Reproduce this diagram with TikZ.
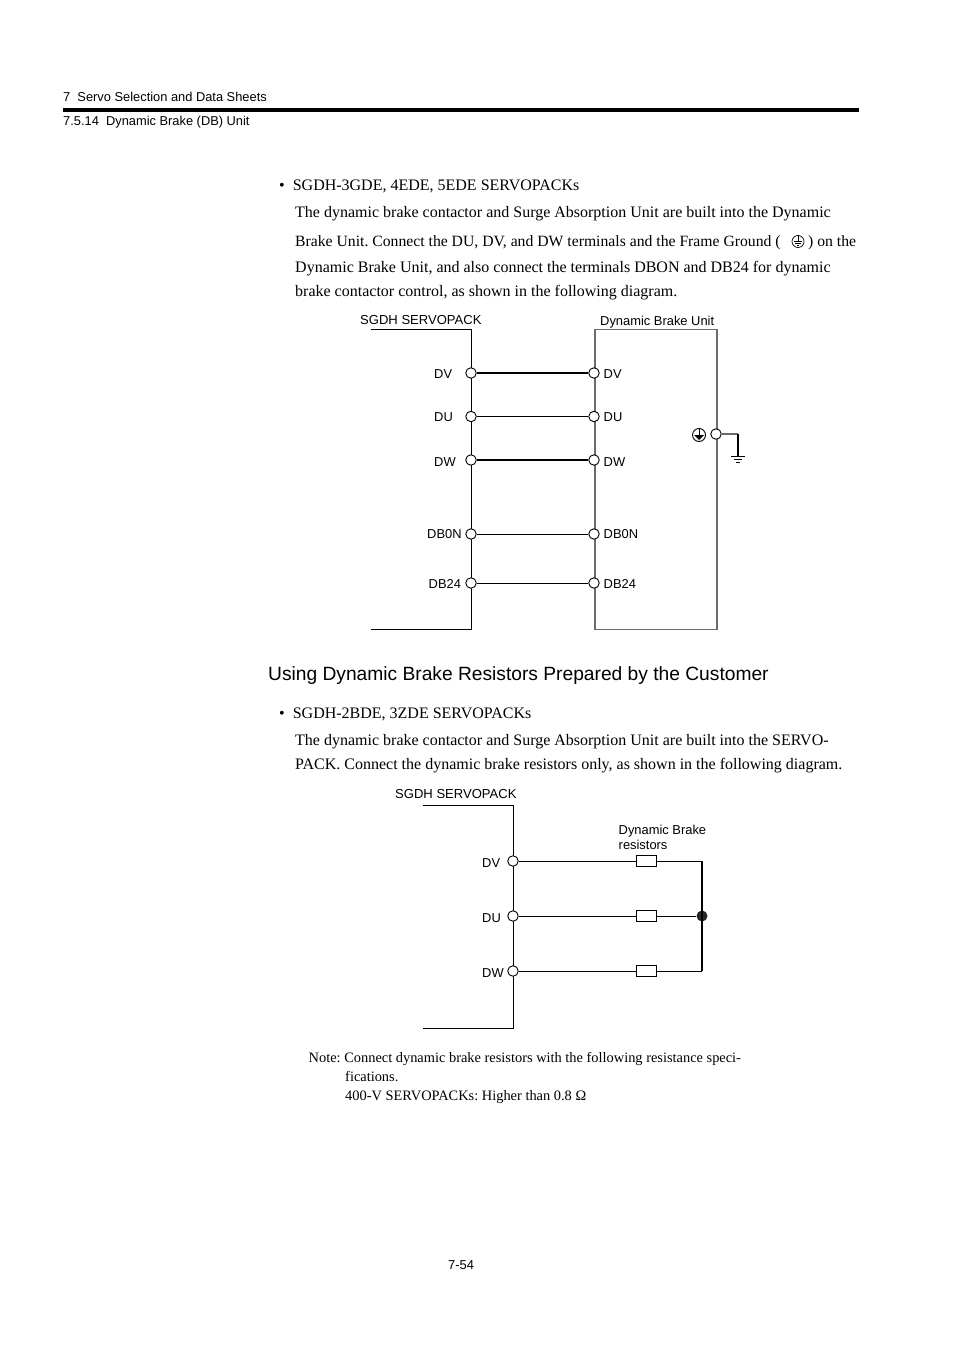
\documentclass[tikz,border=0pt]{standalone}
\usepackage{fontspec}
\setmainfont{Liberation Serif}
\newfontfamily\arialf{Liberation Sans}
\frenchspacing
\begin{document}
\begin{tikzpicture}[x=1pt,y=-1pt,
  bodytxt/.style={anchor=base west,inner sep=0pt,font=\fontsize{16}{18}\selectfont},
  tighttxt/.style={anchor=base west,inner sep=0pt,font=\fontsize{15.7}{18}\selectfont},
  notetxt/.style={anchor=base west,inner sep=0pt,font=\fontsize{14.4}{17}\selectfont},
  headtxt/.style={anchor=base west,inner sep=0pt,font=\arialf\fontsize{12.85}{15}\selectfont},
  sectxt/.style={anchor=base west,inner sep=0pt,font=\arialf\fontsize{19.2}{22}\selectfont},
  lbl/.style={anchor=base west,inner sep=0pt,font=\arialf\fontsize{12.9}{15}\selectfont},
  titlelbl/.style={anchor=base west,inner sep=0pt,font=\arialf\fontsize{13.05}{15}\selectfont},
  term/.style={circle,draw=black,fill=white,line width=0.9pt,minimum size=10.5pt,inner sep=0pt},
  res/.style={rectangle,draw=black,fill=white,line width=0.8pt,minimum width=20pt,minimum height=11pt,inner sep=0pt},
  wire/.style={line width=0.9pt,black},
  thickwire/.style={line width=1.7pt,black},
  graywire/.style={line width=1.5pt,black!58},
  fgsym/.style={circle,draw=black,line width=0.9pt,minimum size=13pt,inner sep=0pt},
  jdot/.style={circle,fill=black!85,minimum size=11pt,inner sep=0pt}]
\useasboundingbox (0,0) rectangle (954,1351);
\fill[white] (0,0) rectangle (954,1351);
% page header
\node[headtxt] (h1) at (63,102) {7\ \ Servo Selection and Data Sheets};
\coordinate (ruleL) at (63,110);
\coordinate (ruleR) at (859,110);
\draw[line width=4pt] (ruleL) -- (ruleR);
\node[headtxt] (h2) at (63,125.5) {7.5.14\ \ Dynamic Brake (DB) Unit};
% body text 1
\node[bodytxt] (b0) at (279,190) {•\ \ SGDH-3GDE, 4EDE, 5EDE SERVOPACKs};
\node[bodytxt] (b1) at (295,217) {The dynamic brake contactor and Surge Absorption Unit are built into the Dynamic};
\node[tighttxt] (b2) at (295,246) {Brake Unit. Connect the DU, DV, and DW terminals and the Frame Ground (};
\node[fgsym,minimum size=12pt,line width=0.7pt] (fgt) at (798,241.5) {};
\draw[line width=0.7pt] (fgt.north) -- (fgt.center);
\draw[line width=0.7pt] ([xshift=-4pt]fgt.center) -- ([xshift=4pt]fgt.center);
\draw[line width=0.7pt] ([xshift=-2.6pt,yshift=-2pt]fgt.center) -- ([xshift=2.6pt,yshift=-2pt]fgt.center);
\draw[line width=0.7pt] ([xshift=-1.3pt,yshift=-4pt]fgt.center) -- ([xshift=1.3pt,yshift=-4pt]fgt.center);
\node[tighttxt] (b2b) at (808,246) {) on the};
\node[bodytxt] (b3) at (295,272) {Dynamic Brake Unit, and also connect the terminals DBON and DB24 for dynamic};
\node[bodytxt] (b4) at (295,296) {brake contactor control, as shown in the following diagram.};
% diagram 1
\node[titlelbl] (t1) at (360,324) {SGDH SERVOPACK};
\node[lbl] (t2) at (600,325) {Dynamic Brake Unit};
\coordinate (a1) at (371,329);
\coordinate (a2) at (471,329);
\coordinate (a3) at (471,629);
\coordinate (a4) at (371,629);
\draw[wire] (a1) -- (a2) -- (a3) -- (a4);
\coordinate (c1) at (595,329.5);
\coordinate (c2) at (717,329.5);
\coordinate (c3) at (717,629.5);
\coordinate (c4) at (595,629.5);
\draw[graywire] (c1) -- (c2) -- (c3) -- (c4) -- cycle;
\foreach \n/\y in {dv/373,du/416.5,dw/460,dbon/534,dbt/583}{
  \node[term] (l\n) at (471,\y) {};
  \node[term] (r\n) at (594,\y) {};
}
\draw[thickwire] (ldv) -- (rdv);
\draw[wire] (ldu) -- (rdu);
\draw[thickwire] (ldw) -- (rdw);
\draw[wire] (ldbon) -- (rdbon);
\draw[wire] (ldbt) -- (rdbt);
\node[lbl] (n1) at (434,378) {DV};
\node[lbl] (n2) at (434,421) {DU};
\node[lbl] (n3) at (434,466) {DW};
\node[lbl] (n4) at (427,538) {DB0N};
\node[lbl] (n5) at (428.5,588) {DB24};
\node[lbl] (m1) at (603.5,378) {DV};
\node[lbl] (m2) at (603.5,421) {DU};
\node[lbl] (m3) at (603.5,466) {DW};
\node[lbl] (m4) at (603.5,538) {DB0N};
\node[lbl] (m5) at (603.5,588) {DB24};
% ground
\node[term] (gt) at (716,434) {};
\coordinate (gc) at (738,434);
\coordinate (gb) at (738,456.5);
\coordinate (g1l) at (731,456.5);
\coordinate (g1r) at (745,456.5);
\coordinate (g2l) at (734,459.5);
\coordinate (g2r) at (742,459.5);
\coordinate (g3l) at (736,462);
\coordinate (g3r) at (740,462);
\draw[graywire,line width=1.2pt] (gt) -- (gc);
\draw[black,line width=1.5pt] (gc) -- (gb);
\draw[line width=0.8pt] (g1l) -- (g1r);
\draw[line width=0.8pt] (g2l) -- (g2r);
\draw[line width=0.8pt] (g3l) -- (g3r);
\node[fgsym] (fg) at (699,435) {};
\draw[line width=0.9pt] (fg.north) -- (fg.center);
\fill[black] ([xshift=-5pt]fg.center) -- ([xshift=5pt]fg.center) -- ([yshift=-5pt]fg.center) -- cycle;
% section heading
\node[sectxt] (sec) at (268,680) {Using Dynamic Brake Resistors Prepared by the Customer};
% body text 2
\node[bodytxt] (d0) at (279,718) {•\ \ SGDH-2BDE, 3ZDE SERVOPACKs};
\node[bodytxt] (d1) at (295,745) {The dynamic brake contactor and Surge Absorption Unit are built into the SERVO-};
\node[bodytxt] (d2) at (295,769) {PACK. Connect the dynamic brake resistors only, as shown in the following diagram.};
% diagram 2
\node[titlelbl] (t3) at (395,798) {SGDH SERVOPACK};
\node[lbl] (t4) at (618.5,834) {Dynamic Brake};
\node[lbl] (t5) at (618.5,849) {resistors};
\coordinate (e1) at (423,805.5);
\coordinate (e2) at (513.5,805.5);
\coordinate (e3) at (513.5,1028);
\coordinate (e4) at (423,1028);
\draw[wire] (e1) -- (e2) -- (e3) -- (e4);
\node[term] (pv) at (513,861) {};
\node[term] (pu) at (513,916) {};
\node[term] (pw) at (513,971) {};
\node[res] (rv) at (646.5,861) {};
\node[res] (ru) at (646.5,916) {};
\node[res] (rw) at (646.5,971) {};
\coordinate (jv) at (702,861);
\coordinate (jw) at (702,971);
\node[jdot] (ju) at (702,916) {};
\draw[wire] (pv) -- (rv);
\draw[wire] (pu) -- (ru);
\draw[wire] (pw) -- (rw);
\draw[wire] (rv) -- (jv);
\draw[wire] (ru) -- (ju);
\draw[wire] (rw) -- (jw);
\draw[thickwire] (jv) -- (jw);
\node[lbl] (q1) at (482,867) {DV};
\node[lbl] (q2) at (482,922) {DU};
\node[lbl] (q3) at (482,977) {DW};
% note
\node[notetxt] (o1) at (308.5,1062) {Note: Connect dynamic brake resistors with the following resistance speci-};
\node[notetxt] (o2) at (345,1081) {fications.};
\node[notetxt] (o3) at (345,1100) {400-V SERVOPACKs: Higher than 0.8 Ω};
% page number
\node[lbl] (pg) at (448,1269) {7-54};
\end{tikzpicture}
\end{document}
